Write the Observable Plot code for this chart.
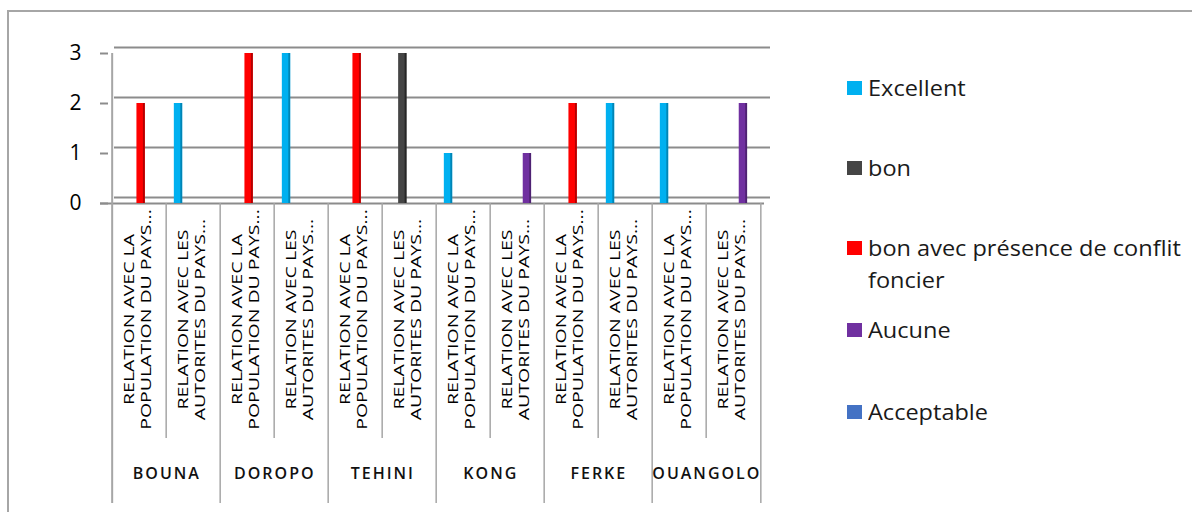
<!DOCTYPE html>
<html>
<head>
<meta charset="utf-8">
<script src="https://cdn.jsdelivr.net/npm/d3@7"></script>
<script src="https://cdn.jsdelivr.net/npm/@observablehq/plot@0.6"></script>
<style>
  html, body { margin: 0; padding: 0; background: #fff; }
  #wrap { position: relative; width: 1192px; height: 512px; overflow: hidden; font-family: "Open Sans", sans-serif; }
  #frame { position: absolute; left: 7px; top: 10px; width: 1300px; height: 600px; border-left: 2px solid #a6a6a6; border-top: 2px solid #a6a6a6; }
  #chart { position: absolute; left: 0; top: 0; }
  .legend-item { position: absolute; left: 847px; display: flex; align-items: flex-start; font-size: 21px; color: #1a1a1a; line-height: 32px; }
  .legend-item .sw { width: 15px; height: 14px; margin-top: 9px; margin-right: 6px; flex: none; }
  .legend-item .lb { display: inline-block; transform: scaleX(1.12); transform-origin: left center; white-space: nowrap; }
  .region-label text { letter-spacing: 2px; }
</style>
</head>
<body>
<div id="wrap">
  <div id="frame"></div>
  <div id="chart"></div>
  <div id="legend"></div>
</div>
<script>
// ---- data ----
const regions = ["BOUNA", "DOROPO", "TEHINI", "KONG", "FERKE", "OUANGOLO"];
const subcategories = ["RELATION AVEC LA\nPOPULATION DU PAYS...", "RELATION AVEC LES\nAUTORITES DU PAYS..."];
const seriesNames = ["Excellent", "bon", "bon avec présence de conflit foncier", "Aucune", "Acceptable"];
const seriesColors = ["#00B0F0", "#454545", "#FF0000", "#7030A0", "#4472C4"];
const seriesSideColors = ["#0085B5", "#262626", "#B30000", "#4E2172", "#2F5597"];
// values per (region, subcategory), in order BOUNA-pop, BOUNA-aut, DOROPO-pop, ...
const excellent  = [0, 2, 0, 3, 0, 0, 1, 0, 0, 2, 2, 0];
const bon        = [0, 0, 0, 0, 0, 3, 0, 0, 0, 0, 0, 0];
const bonConflit = [2, 0, 3, 0, 3, 0, 0, 0, 2, 0, 0, 0];
const aucune     = [0, 0, 0, 0, 0, 0, 0, 1, 0, 0, 0, 2];
const acceptable = [0, 0, 0, 0, 0, 0, 0, 0, 0, 0, 0, 0];
const yTicks = [0, 1, 2, 3];

// ---- derived tables ----
const seriesValues = [excellent, bon, bonConflit, aucune, acceptable];
const keys = [];
const subRows = [];
regions.forEach((r, ri) => subcategories.forEach((s, si) => {
  const key = r + "-" + si;
  keys.push(key);
  subRows.push({key, label: s});
}));
const regionRows = regions.map((r, ri) => ({key: keys[ri * 2], region: r}));
const rows = [];
seriesValues.forEach((vals, si) => vals.forEach((v, ki) => {
  if (v > 0) rows.push({key: keys[ki], series: si, value: v});
}));

// ---- layout ----
const W = 1192, H = 512;
const pLeft = 108, pRight = 764, pTop = 53, pBottom = 203;
const bw = (pRight - pLeft) / keys.length;
const barW = 9, sideW = 2.5;
const offsets = [-15, -6.7, 1.6, 9.9, 18.2];
const grid = "#8c8c8c";
const sep = "#a6a6a6";

const barMarks = [];
seriesNames.forEach((name, si) => {
  const data = rows.filter(d => d.series === si);
  const inset = (bw - barW) / 2;
  barMarks.push(Plot.barY(data, {x: "key", y: "value", fill: seriesColors[si], dx: offsets[si], insetLeft: inset, insetRight: inset}));
  barMarks.push(Plot.barY(data, {x: "key", y: "value", fill: seriesSideColors[si], dx: offsets[si], insetLeft: inset + barW - sideW, insetRight: inset}));
});

const chart = Plot.plot({
  width: W,
  height: H,
  marginLeft: pLeft,
  marginRight: W - pRight,
  marginTop: pTop,
  marginBottom: H - pBottom,
  style: {fontFamily: "Open Sans, sans-serif", color: "#000", background: "transparent", overflow: "visible"},
  x: {type: "band", domain: keys, padding: 0, axis: null},
  y: {domain: [0, 3], label: null},
  marks: [
    // back-wall gridlines
    Plot.ruleY(yTicks, {stroke: grid, strokeWidth: 2, dx: 6, dy: -6}),
    // floor front edge
    Plot.ruleY([0], {stroke: grid, strokeWidth: 2, insetLeft: -8}),
    // y axis
    Plot.axisY(yTicks, {label: null, tickSize: 8, tickPadding: 19, fontSize: 21, stroke: grid, strokeWidth: 2, fill: "#000", tickFormat: d => String(d)}),
    // left axis line running down through label area
    Plot.ruleX([keys[0]], {stroke: sep, strokeWidth: 2, dx: -bw / 2, insetBottom: -300}),
    // sub-category separators
    Plot.ruleX(keys.filter((k, i) => i % 2 === 1), {stroke: sep, strokeWidth: 1.5, dx: -bw / 2, insetTop: pBottom - pTop, insetBottom: -235}),
    // region separators
    Plot.ruleX(keys.filter((k, i) => i % 2 === 0 && i > 0), {stroke: sep, strokeWidth: 1.5, dx: -bw / 2, insetTop: pBottom - pTop, insetBottom: -300}),
    Plot.ruleX([keys[keys.length - 1]], {stroke: sep, strokeWidth: 1.5, dx: bw / 2, insetTop: pBottom - pTop, insetBottom: -300}),
    ...barMarks,
    // sub-category labels
    Plot.text(subRows, {x: "key", text: "label", rotate: -90, frameAnchor: "bottom", dy: 116, dx: 11, fontSize: 15, lineHeight: 1.13, fill: "#000", className: "sub-label"}),
    // region labels
    Plot.text(regionRows, {x: "key", text: "region", frameAnchor: "bottom", dx: bw / 2, dy: 275, fontSize: 16, fontWeight: 600, fill: "#111", className: "region-label"})
  ]
});
document.getElementById("chart").appendChild(chart);

// stretch the rotated labels along their length, like the reference
d3.select(chart).selectAll(".sub-label text").attr("transform", function() {
  const t = this.getAttribute("transform") || "";
  return t + " scale(1.3,1)";
});

// ---- legend ----
const legendY = [72, 152, 232, 314, 396];
const legendLabels = ["Excellent", "bon", "bon avec présence de conflit<br>foncier", "Aucune", "Acceptable"];
const legend = document.getElementById("legend");
seriesNames.forEach((name, i) => {
  const item = document.createElement("div");
  item.className = "legend-item";
  item.style.top = legendY[i] + "px";
  const sw = document.createElement("span");
  sw.className = "sw";
  sw.style.background = seriesColors[i];
  const label = document.createElement("span");
  label.className = "lb";
  label.innerHTML = legendLabels[i];
  item.appendChild(sw);
  item.appendChild(label);
  legend.appendChild(item);
});
</script>
</body>
</html>
